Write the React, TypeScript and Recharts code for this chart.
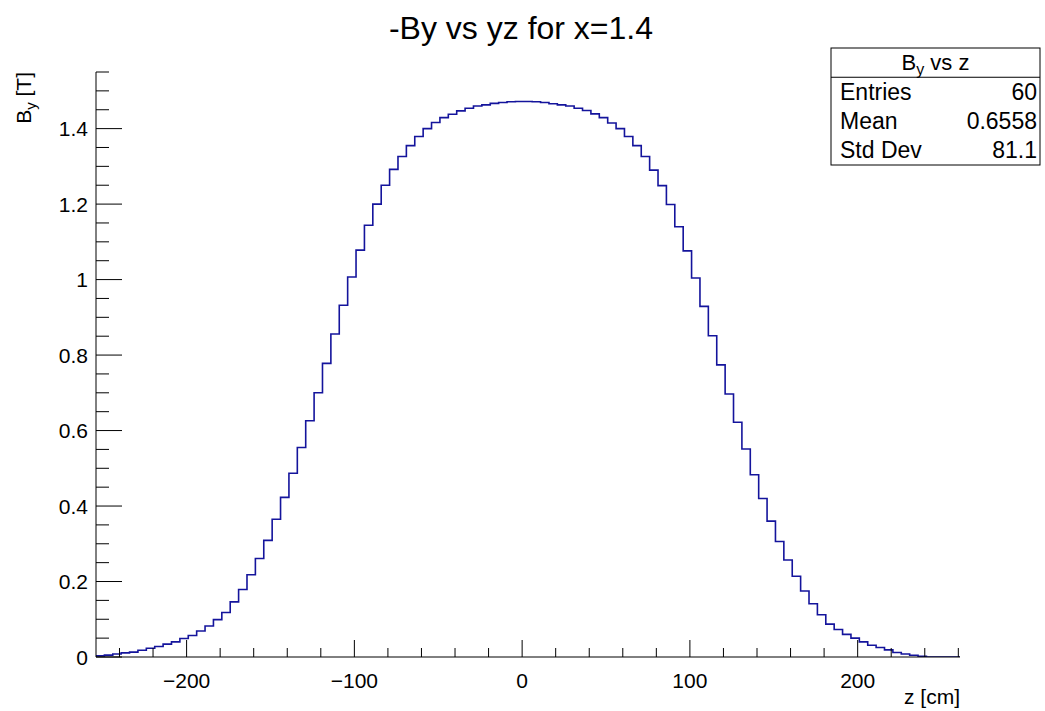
import { LineChart, Line, XAxis, YAxis } from 'recharts';

// histogram binning: 103 bins of 5 cm starting at z = -254
const BIN_LOW = -254;
const BIN_WIDTH = 5;
const Z_MAX = 261;

// -By per bin [T]
const BY_VALUES = [
  0.003, 0.005, 0.008, 0.011, 0.013, 0.018, 0.023, 0.028, 0.034, 0.04,
  0.049, 0.057, 0.069, 0.082, 0.099, 0.118, 0.146, 0.179, 0.218, 0.261,
  0.309, 0.365, 0.423, 0.487, 0.555, 0.626, 0.7, 0.778, 0.856, 0.932,
  1.007, 1.078, 1.144, 1.2, 1.25, 1.292, 1.326, 1.355, 1.379, 1.4,
  1.416, 1.429, 1.438, 1.447, 1.454, 1.46, 1.463, 1.467, 1.469, 1.471,
  1.472, 1.472, 1.471, 1.469, 1.466, 1.463, 1.46, 1.454, 1.448, 1.439,
  1.429, 1.415, 1.4, 1.379, 1.355, 1.326, 1.29, 1.249, 1.199, 1.14,
  1.076, 1.004, 0.929, 0.851, 0.774, 0.697, 0.622, 0.551, 0.483, 0.42,
  0.36, 0.306, 0.257, 0.214, 0.175, 0.141, 0.112, 0.087, 0.073, 0.06,
  0.05, 0.04, 0.031, 0.025, 0.019, 0.012, 0.008, 0.0045, 0.002, 0,
  0, 0, 0,
];

const X_TICKS = [
  -240, -220, -200, -180, -160, -140, -120, -100, -80, -60, -40, -20, 0,
  20, 40, 60, 80, 100, 120, 140, 160, 180, 200, 220, 240, 260,
];
const X_MAJOR = [-200, -100, 0, 100, 200];

const Y_TICKS = [
  0, 0.05, 0.1, 0.15, 0.2, 0.25, 0.3, 0.35, 0.4, 0.45, 0.5, 0.55, 0.6,
  0.65, 0.7, 0.75, 0.8, 0.85, 0.9, 0.95, 1, 1.05, 1.1, 1.15, 1.2, 1.25,
  1.3, 1.35, 1.4, 1.45, 1.5, 1.55,
];
const Y_MAJOR = [0, 0.2, 0.4, 0.6, 0.8, 1, 1.2, 1.4];

const STATS = [
  { label: 'Entries', value: '60' },
  { label: 'Mean', value: '0.6558' },
  { label: 'Std Dev', value: '81.1' },
];

const FONT = '"Liberation Sans", Arial, Helvetica, sans-serif';
const W = 1045;
const H = 711;
const PLOT_LEFT = 96;
const PLOT_RIGHT = 960;
const PLOT_TOP = 72;
const PLOT_BOTTOM = 657;

const data = BY_VALUES.map((v, i) => ({ z: BIN_LOW + i * BIN_WIDTH, by: v }));
data.push({ z: Z_MAX, by: BY_VALUES[BY_VALUES.length - 1] });

const isMajor = (list: number[], v: number) =>
  list.some((m) => Math.abs(m - v) < 1e-6);

const XTick = (props: any) => {
  const { x, payload } = props;
  const major = isMajor(X_MAJOR, payload.value);
  const len = major ? 17 : 9;
  const label = payload.value < 0 ? `\u2212${-payload.value}` : `${payload.value}`;
  return (
    <g>
      <line x1={x} x2={x} y1={PLOT_BOTTOM} y2={PLOT_BOTTOM - len} stroke="#000" strokeWidth={1} />
      {major && (
        <text x={x} y={688} textAnchor="middle" fontSize={21} fontFamily={FONT} fill="#000">
          {label}
        </text>
      )}
    </g>
  );
};

const YTick = (props: any) => {
  const { y, payload } = props;
  const major = isMajor(Y_MAJOR, payload.value);
  const len = major ? 26 : 13;
  return (
    <g>
      <line x1={PLOT_LEFT} x2={PLOT_LEFT + len} y1={y} y2={y} stroke="#000" strokeWidth={1} />
      {major && (
        <text x={88} y={y + 7.5} textAnchor="end" fontSize={21} fontFamily={FONT} fill="#000">
          {String(Number(payload.value.toFixed(2)))}
        </text>
      )}
    </g>
  );
};

export default function App() {
  const boxL = 831;
  const boxR = 1040;
  const boxT = 48;
  const boxB = 165;
  const rowH = (boxB - boxT) / 4;

  return (
    <div style={{ position: 'absolute', left: 0, top: 0, width: W, height: H, background: '#fff' }}>
      <LineChart
        width={W}
        height={H}
        data={data}
        margin={{ top: PLOT_TOP, right: W - PLOT_RIGHT, left: PLOT_LEFT - 60, bottom: H - PLOT_BOTTOM - 40 }}
      >
        <XAxis
          dataKey="z"
          type="number"
          domain={[BIN_LOW, Z_MAX]}
          ticks={X_TICKS}
          interval={0}
          tick={<XTick />}
          tickLine={false}
          axisLine={{ stroke: '#000', strokeWidth: 1 }}
          height={40}
          allowDataOverflow
        />
        <XAxis
          xAxisId="top"
          dataKey="z"
          type="number"
          domain={[BIN_LOW, Z_MAX]}
          orientation="top"
          tick={false}
          tickLine={false}
          axisLine={{ stroke: '#000', strokeWidth: 1 }}
          height={0}
        />
        <YAxis
          type="number"
          domain={[0, 1.55]}
          ticks={Y_TICKS}
          interval={0}
          tick={<YTick />}
          tickLine={false}
          axisLine={{ stroke: '#000', strokeWidth: 1 }}
          width={60}
          allowDataOverflow
        />
        <YAxis
          yAxisId="right"
          orientation="right"
          domain={[0, 1.55]}
          tick={false}
          tickLine={false}
          axisLine={{ stroke: '#000', strokeWidth: 1 }}
          width={0}
        />
        <Line
          type="stepAfter"
          dataKey="by"
          stroke="#14149c"
          strokeWidth={1.6}
          dot={false}
          activeDot={false}
          isAnimationActive={false}
        />
      </LineChart>

      <svg
        width={W}
        height={H}
        style={{ position: 'absolute', left: 0, top: 0, pointerEvents: 'none' }}
        fontFamily={FONT}
      >
        <text x={521} y={39} textAnchor="middle" fontSize={32} fill="#000">
          -By vs yz for x=1.4
        </text>

        <text
          transform={`translate(31, ${PLOT_TOP}) rotate(-90)`}
          textAnchor="end"
          fontSize={21}
          fill="#000"
        >
          B<tspan dy={5} fontSize={15}>y</tspan>
          <tspan dy={-5}> [T]</tspan>
        </text>

        <text x={PLOT_RIGHT} y={704} textAnchor="end" fontSize={21} fill="#000">
          z [cm]
        </text>

        <rect x={boxL} y={boxT} width={boxR - boxL} height={boxB - boxT} fill="#fff" stroke="#000" strokeWidth={1} />
        <line x1={boxL} x2={boxR} y1={boxT + rowH} y2={boxT + rowH} stroke="#000" strokeWidth={1} />
        <text x={(boxL + boxR) / 2} y={boxT + rowH / 2 + 7} textAnchor="middle" fontSize={22} fill="#000">
          B<tspan dy={5} fontSize={16}>y</tspan>
          <tspan dy={-5}> vs z</tspan>
        </text>
        {STATS.map((s, i) => (
          <g key={s.label}>
            <text x={boxL + 9} y={boxT + rowH * (i + 1.5) + 8} fontSize={23} fill="#000">
              {s.label}
            </text>
            <text x={boxR - 3} y={boxT + rowH * (i + 1.5) + 8} textAnchor="end" fontSize={23} fill="#000">
              {s.value}
            </text>
          </g>
        ))}
      </svg>
    </div>
  );
}
